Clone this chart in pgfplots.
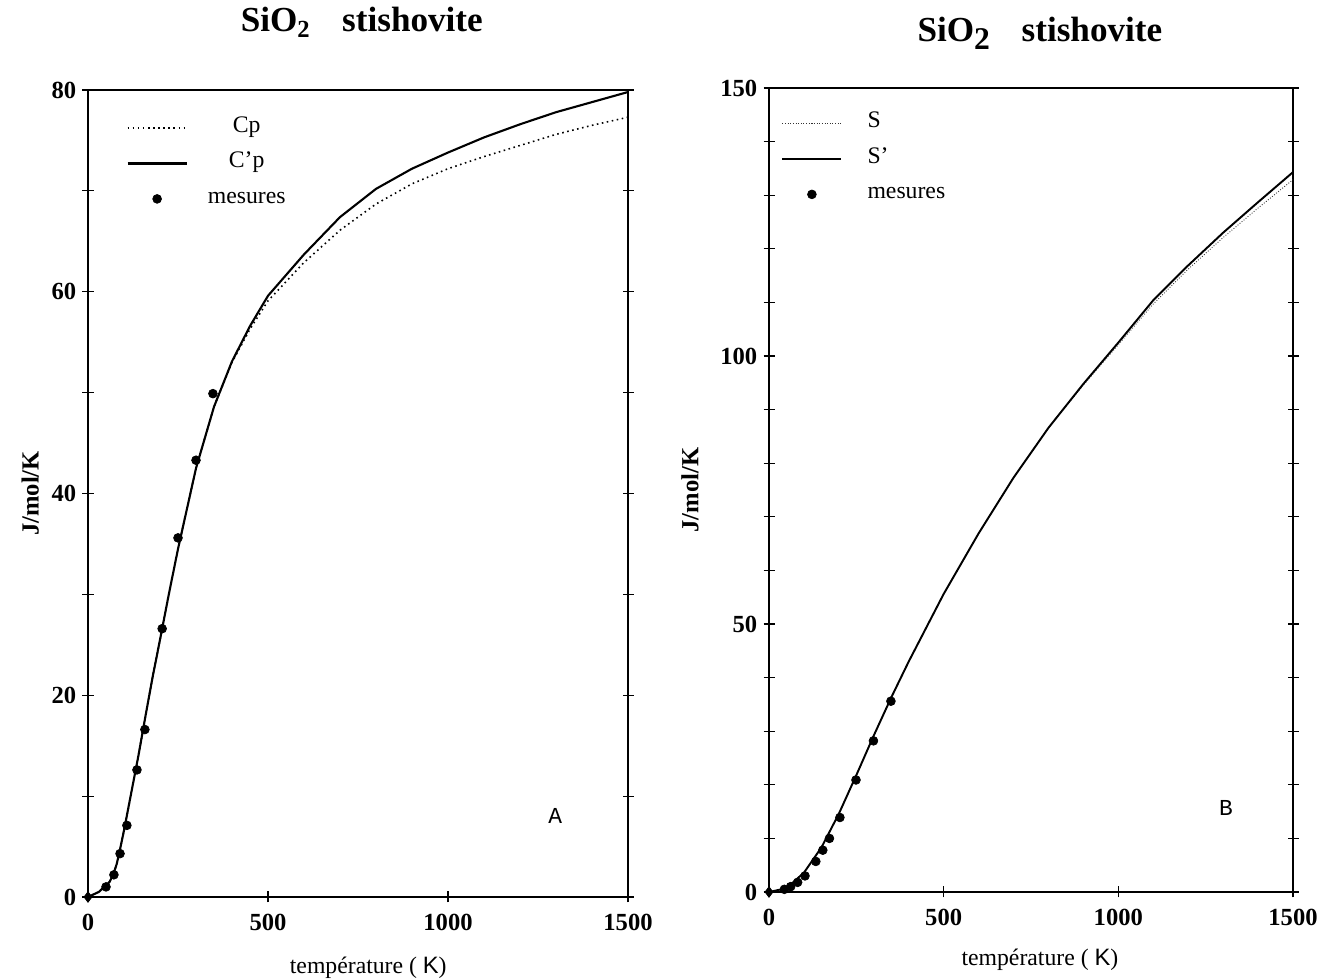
\documentclass[border=0pt]{standalone}
\usepackage{pgfplots}
\pgfplotsset{compat=1.18}
\usepackage{fontspec}
\setmainfont{Liberation Serif}
\newfontfamily\sansK{Liberation Sans}
\newfontfamily\monoA{Liberation Mono}

\pgfplotsset{
  panel/.style={
    scale only axis,
    xmin=0, xmax=1500,
    axis line style={line width=1.1pt},
    xtick={0,500,1000,1500},
    xtick pos=bottom,
    ytick pos=both,
    tick align=center,
    major tick length=0.22cm,
    tick style={line width=0.6pt, black},
    ticklabel style={font=\bfseries\fontsize{14}{14}\selectfont},
    xticklabel style={yshift=-3pt},
    /pgf/number format/assume math mode=true,
    /pgf/number format/1000 sep={},
    title style={font=\bfseries\fontsize{20}{22}\selectfont, anchor=center, yshift=-6pt},
    xlabel style={font=\fontsize{13.5}{15}\selectfont, anchor=center},
    ylabel style={font=\bfseries\fontsize{14}{15}\selectfont, anchor=center},
    legend image code/.code={\draw[mark repeat=2,mark phase=2,##1] plot coordinates {(0cm,0cm) (0.59cm,0cm) (1.18cm,0cm)};},
    clip=false,
  },
}

\pgfplotstableread{
T Cp
0 0
30 0.5
60 1.5
70 2.2
80 3.3
90 4.9
100 6.6
120 10.3
140 14.0
160 18.0
180 21.9
200 25.5
225 30.1
250 34.5
300 42.5
350 48.6
400 53.0
450 56.3
500 59.1
600 62.9
700 66.1
800 68.7
900 70.7
1000 72.2
1100 73.4
1200 74.5
1300 75.6
1400 76.5
1500 77.3
}\cpdotted

\pgfplotstableread{
T Cp
0 0
30 0.5
60 1.5
70 2.2
80 3.3
90 4.9
100 6.6
120 10.3
140 14.0
160 18.0
180 21.9
200 25.5
225 30.1
250 34.5
300 42.5
350 48.6
400 53.1
450 56.6
500 59.6
600 63.7
700 67.4
800 70.2
900 72.2
1000 73.8
1100 75.3
1200 76.6
1300 77.8
1400 78.8
1500 79.8
}\cpsolid

\pgfplotstableread{
T Cp
50 1.0
72 2.2
89 4.3
108 7.1
136 12.6
158 16.6
206 26.6
250 35.6
300 43.3
347 49.9
}\cpmes

\pgfplotstableread{
T S
0 0
50 0.7
100 3.6
150 8.3
200 14.6
250 21.8
300 29.2
350 36.3
400 43.0
500 55.6
600 66.9
700 77.3
800 86.6
900 94.6
1000 102.1
1100 109.7
1200 116.2
1300 122.1
1400 127.6
1500 132.9
}\sdotted

\pgfplotstableread{
T S
0 0
50 0.7
100 3.6
150 8.3
200 14.6
250 21.8
300 29.2
350 36.3
400 43.0
500 55.6
600 66.9
700 77.3
800 86.6
900 94.8
1000 102.5
1100 110.4
1200 116.9
1300 123.0
1400 128.7
1500 134.3
}\ssolid

\pgfplotstableread{
T S
44 0.5
62 1.0
82 1.8
103 3.0
134 5.7
154 7.8
173 10.0
203 13.9
249 20.9
299 28.2
349 35.6
}\smes

\begin{document}
\begin{tikzpicture}
\useasboundingbox (0,0) rectangle (26.66cm,19.6cm);

% ---------- Panel A ----------
\begin{axis}[panel,
  at={(1.76cm,1.66cm)}, anchor=south west,
  width=10.8cm, height=16.14cm,
  ymin=0, ymax=80,
  ytick={0,10,...,80},
  yticklabels={0,,20,,40,,60,,80},
  title={SiO\textsubscript{2}\hspace{0.9em}stishovite},
  title style={at={(0.507,1.084)}},
  xlabel={température ( {\sansK K})},
  xlabel style={at={(0.519,-0.088)}},
  ylabel={J/mol/K},
  ylabel style={at={(-0.107,0.5)}},
  legend style={draw=none, fill=none, at={(0.061,0.971)}, anchor=north west,
    font=\fontsize{13.5}{15}\selectfont, row sep=8pt,
    nodes={inner sep=1.5pt, text height=1.55ex, text depth=0.45ex},
    /tikz/every odd column/.append style={column sep=0.35cm}},
  legend cell align=center,
]
\addplot[black, line width=0.9pt, dotted] table[x=T, y=Cp] {\cpdotted};
\addlegendentry{Cp}
\addplot[black, line width=1.2pt] table[x=T, y=Cp] {\cpsolid};
\addlegendentry{C'p}
\addplot[black, only marks, mark=*, mark size=2.5pt] table[x=T, y=Cp] {\cpmes};
\addlegendentry{mesures}
\addplot[black, only marks, mark=diamond*, mark size=3pt, forget plot] coordinates {(0,0)};
\node[font=\monoA\fontsize{13}{13}\selectfont] at (axis description cs:0.865,0.100) {A};
\end{axis}

% ---------- Panel B ----------
\begin{axis}[panel,
  at={(15.38cm,1.76cm)}, anchor=south west,
  width=10.48cm, height=16.08cm,
  ymin=0, ymax=150,
  ytick={0,10,...,150},
  yticklabels={0,,,,,50,,,,,100,,,,,150},
  title={SiO\raisebox{-0.5ex}{\fontsize{18}{18}\selectfont 2}\hspace{0.9em}stishovite},
  title style={at={(0.517,1.068)}},
  xlabel={température ( {\sansK K})},
  xlabel style={at={(0.517,-0.0846)}},
  ylabel={J/mol/K},
  ylabel style={at={(-0.151,0.5)}},
  legend style={draw=none, fill=none, at={(0.013,0.974)}, anchor=north west,
    font=\fontsize{13.5}{15}\selectfont, row sep=8pt,
    nodes={inner sep=1.5pt, text height=1.55ex, text depth=0.45ex},
    /tikz/every odd column/.append style={column sep=0.45cm}},
  legend cell align=left,
]
\addplot[black!80, line width=0.5pt, densely dotted] table[x=T, y=S] {\sdotted};
\addlegendentry{S}
\addplot[black, line width=1.1pt] table[x=T, y=S] {\ssolid};
\addlegendentry{S'}
\addplot[black, only marks, mark=*, mark size=2.5pt] table[x=T, y=S] {\smes};
\addlegendentry{mesures}
\addplot[black, only marks, mark=diamond*, mark size=3pt, forget plot] coordinates {(0,0)};
\node[font=\monoA\fontsize{13}{13}\selectfont] at (axis description cs:0.872,0.104) {B};
\end{axis}
\end{tikzpicture}
\end{document}
